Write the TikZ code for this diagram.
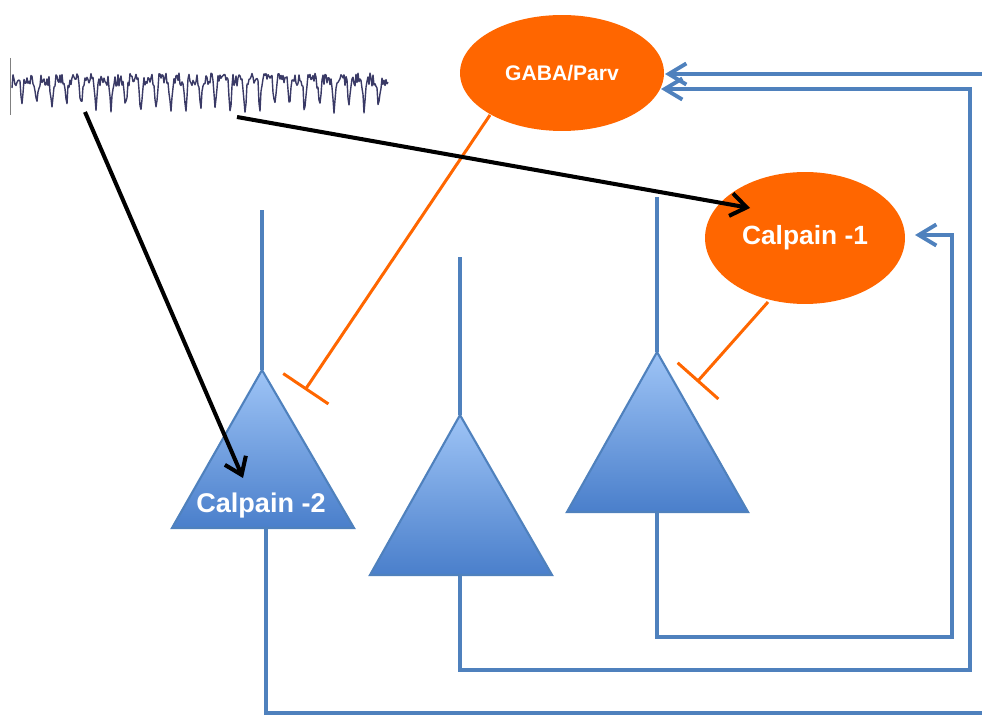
\documentclass[tikz,border=0pt]{standalone}
\usepackage{fontspec}
\setmainfont{Liberation Sans}
\usetikzlibrary{arrows.meta,shapes.geometric}
\definecolor{netblue}{HTML}{4F81BD}
\definecolor{celltop}{HTML}{9EC4F6}
\definecolor{cellbot}{HTML}{4A7FCB}
\definecolor{cellorange}{HTML}{FF6600}
\definecolor{tracecol}{HTML}{3A3A66}
\tikzset{
 axon/.style={draw=netblue,line width=2.2pt},
 feed/.style={axon,-{Straight Barb[length=10pt,width=12pt,line width=2.2pt]}},
 inhib/.style={draw=cellorange,line width=1.7pt,-{Bar[width=31pt,line width=1.7pt]}},
 drive/.style={draw=black,line width=2.3pt,-{Straight Barb[length=9pt,width=13pt,line width=2.3pt]}},
 pyramid/.style={draw=netblue,line width=1.2pt,shade,top color=celltop,bottom color=cellbot},
 interneuron/.style={ellipse,fill=cellorange,draw=none,inner sep=0pt,text=white,font=\bfseries},
}
\begin{document}
\begin{tikzpicture}[x=0.02cm,y=-0.02cm]
 \useasboundingbox (0,0) rectangle (982,715);
 % recording trace
 \pgfmathsetseed{7}
 \draw[gray,thin] (10,58) -- (10,115);
 \draw[tracecol,line width=0.8pt,line join=round] (12,88)
  \foreach \i [evaluate=\i as \c using {max(0,cos(24.2*(\i+5)))}] in {1,...,376}{ -- ({12+\i},{73+28*\c*\c*\c*\c+13*rnd}) };
 \coordinate (src1) at (85,112);
 \coordinate (src2) at (237,117);
 % pyramidal cells
 \coordinate (apexA) at (262,370); \coordinate (baseA) at (266,528);
 \coordinate (apexB) at (460,415); \coordinate (baseB) at (460,575);
 \coordinate (apexC) at (657,352); \coordinate (baseC) at (657,512);
 \coordinate (dendA) at (262,210);
 \coordinate (dendB) at (460,257);
 \coordinate (dendC) at (657,197);
 \draw[axon] (apexA) -- (dendA);
 \draw[axon] (apexB) -- (dendB);
 \draw[axon] (apexC) -- (dendC);
 \path[pyramid] (apexA) -- (354,528) -- (172,528) -- cycle;
 \path[pyramid] (apexB) -- (552,575) -- (370,575) -- cycle;
 \path[pyramid] (apexC) -- (748,512) -- (567,512) -- cycle;
 \node[text=white,font=\bfseries\fontsize{15.4}{18}\selectfont] (calp2) at (261,506) {Calpain -2};
 % axons and feedback
 \coordinate (outA) at (982,713);
 \coordinate (turnB) at (970,670);
 \coordinate (turnC) at (952,637);
 \coordinate (inGaba1) at (665,74);
 \coordinate (inGaba2) at (661,89);
 \coordinate (inCalp) at (915,235);
 \coordinate (edge) at (982,74);
 \draw[axon] (baseA) |- (outA);
 \draw[feed] (baseB) |- (turnB) |- (inGaba2);
 \draw[feed] (baseC) |- (turnC) |- (inCalp);
 \draw[feed] (edge) -- (inGaba1);
 % inhibition
 \coordinate (g1) at (490,115);
 \coordinate (bar1) at (305,390);
 \coordinate (c1) at (768,302);
 \coordinate (bar2) at (697,382);
 \draw[inhib] (g1) -- (bar1);
 \draw[inhib] (c1) -- (bar2);
 % interneurons
 \node[interneuron,minimum width=4.08cm,minimum height=2.32cm,font=\bfseries\fontsize{12}{14}\selectfont] (gaba) at (562,73) {GABA/Parv};
 \node[interneuron,minimum width=4cm,minimum height=2.64cm,font=\bfseries\fontsize{15}{18}\selectfont] (calp1) at (805,238) {Calpain -1};
 % drive from the recording
 \coordinate (tip1) at (243,478);
 \coordinate (tip2) at (750,208);
 \draw[drive] (src1) -- (tip1);
 \draw[drive] (src2) -- (tip2);
\end{tikzpicture}
\end{document}
